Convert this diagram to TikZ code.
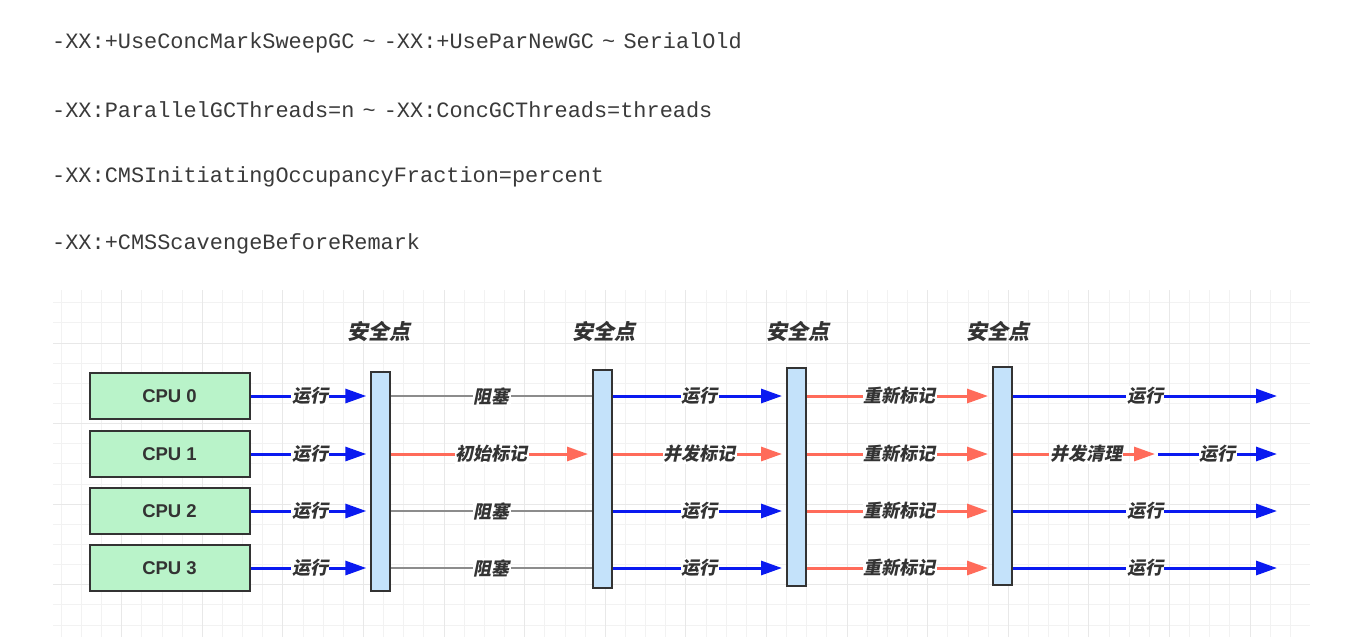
\documentclass[tikz,border=0pt]{standalone}
\usepackage{fontspec}
\usetikzlibrary{arrows.meta}
\newfontfamily\cjkf{Noto Sans CJK SC}[FakeSlant=0.2]
\newfontfamily\sansf{Liberation Sans}
\newfontfamily\monof{Liberation Mono}
\definecolor{txt}{HTML}{333333}
\definecolor{cmdtxt}{HTML}{3A3A3A}
\definecolor{gminor}{HTML}{F2F2F2}
\definecolor{gmajor}{HTML}{E8E8E8}
\definecolor{runblue}{HTML}{0A1AF0}
\definecolor{markred}{HTML}{FF6B5A}
\definecolor{blockgray}{HTML}{8C8C8C}
\definecolor{cpufill}{HTML}{B9F3C9}
\definecolor{barfill}{HTML}{C4E2FA}
\definecolor{edge}{HTML}{333333}
\newcommand{\tl}{\kern-5pt\textasciitilde\kern-5pt}
\tikzset{
  cmdline/.style={anchor=west, inner sep=0pt, text=cmdtxt, font=\monof\fontsize{21.9}{24}\selectfont},
  cpubox/.style={draw=edge, line width=2pt, fill=cpufill, minimum width=160pt, minimum height=46pt, inner sep=0pt, text=txt, font=\sansf\bfseries\fontsize{18.5}{21}\selectfont},
  barbox/.style={draw=edge, line width=2pt, fill=barfill, minimum width=19pt, inner sep=0pt},
  sptext/.style={inner sep=0pt, text=txt, font=\cjkf\bfseries\fontsize{21}{24}\selectfont},
  lbl/.style={fill=white, inner sep=1pt, text=txt, font=\cjkf\bfseries\fontsize{18}{20}\selectfont},
  runarrow/.style={draw=runblue, line width=3pt, -{Triangle[length=21pt,width=14pt]}, shorten >=4pt},
  markarrow/.style={draw=markred, line width=3pt, -{Triangle[length=21pt,width=14pt]}, shorten >=4pt},
  blockline/.style={draw=blockgray, line width=2pt}
}
\begin{document}
\begin{tikzpicture}[x=1pt,y=-1pt]
\useasboundingbox (0,0) rectangle (1364,641);
\fill[white] (0,0) rectangle (1364,641);
% grid
\foreach \i in {0,...,61} \draw[gminor, line width=1pt] ({61.25+20.15*\i},290) -- ({61.25+20.15*\i},637);
\foreach \j in {0,...,16} \draw[gminor, line width=1pt] (53,{302.7+20.15*\j}) -- (1310,{302.7+20.15*\j});
\foreach \i in {0,...,14} \draw[gmajor, line width=1pt] ({121.7+80.6*\i},290) -- ({121.7+80.6*\i},637);
\foreach \j in {0,...,3} \draw[gmajor, line width=1pt] (53,{343+80.6*\j}) -- (1310,{343+80.6*\j});

% command lines
\node[cmdline] (t1) at (52,43) {-XX:+UseConcMarkSweepGC \tl{} -XX:+UseParNewGC \tl{} SerialOld};
\node[cmdline] (t2) at (52,110) {-XX:ParallelGCThreads=n \tl{} -XX:ConcGCThreads=threads};
\node[cmdline] (t3) at (52,177) {-XX:CMSInitiatingOccupancyFraction=percent};
\node[cmdline] (t4) at (52,244) {-XX:+CMSScavengeBeforeRemark};

% safepoint labels
\node[sptext] (sp1) at (379,331) {安全点};
\node[sptext] (sp2) at (604,331) {安全点};
\node[sptext] (sp3) at (798,331) {安全点};
\node[sptext] (sp4) at (998,331) {安全点};

% CPU boxes
\node[cpubox] (cpu0) at (169.5,396) {CPU 0};
\node[cpubox] (cpu1) at (169.5,454) {CPU 1};
\node[cpubox] (cpu2) at (169.5,511) {CPU 2};
\node[cpubox] (cpu3) at (169.5,568) {CPU 3};

% safepoint bars
\node[barbox, minimum height=219pt] (b1) at (380.8,481.3) {};
\node[barbox, minimum height=218pt] (b2) at (602.5,479) {};
\node[barbox, minimum height=218pt] (b3) at (796.5,477) {};
\node[barbox, minimum height=218pt] (b4) at (1002.5,476) {};

% free ends
\coordinate (e0) at (1277,396);
\coordinate (e2) at (1277,511);
\coordinate (e3) at (1277,568);
\coordinate (ra) at (1159,454);
\coordinate (rb) at (1158,454);
\coordinate (e1) at (1277,454);

% CPU -> bar1
\foreach \k in {0,...,3}
  \draw[runarrow] (cpu\k.east) -- (b1.west |- cpu\k) node[lbl, midway] {运行};

% bar1 -> bar2
\draw[blockline] (b1.east |- cpu0) -- (b2.west |- cpu0) node[lbl, midway] {阻塞};
\draw[markarrow] (b1.east |- cpu1) -- (b2.west |- cpu1) node[lbl, midway] {初始标记};
\draw[blockline] (b1.east |- cpu2) -- (b2.west |- cpu2) node[lbl, midway] {阻塞};
\draw[blockline] (b1.east |- cpu3) -- (b2.west |- cpu3) node[lbl, midway] {阻塞};

% bar2 -> bar3
\draw[runarrow] (b2.east |- cpu0) -- (b3.west |- cpu0) node[lbl, midway] {运行};
\draw[markarrow] (b2.east |- cpu1) -- (b3.west |- cpu1) node[lbl, midway] {并发标记};
\draw[runarrow] (b2.east |- cpu2) -- (b3.west |- cpu2) node[lbl, midway] {运行};
\draw[runarrow] (b2.east |- cpu3) -- (b3.west |- cpu3) node[lbl, midway] {运行};

% bar3 -> bar4
\foreach \k in {0,...,3}
  \draw[markarrow] (b3.east |- cpu\k) -- (b4.west |- cpu\k) node[lbl, midway] {重新标记};

% after bar4
\draw[runarrow, shorten >=0pt] (b4.east |- cpu0) -- (e0) node[lbl, midway] {运行};
\draw[markarrow] (b4.east |- cpu1) -- (ra) node[lbl, midway] {并发清理};
\draw[runarrow, shorten >=0pt] (rb) -- (e1) node[lbl, midway] {运行};
\draw[runarrow, shorten >=0pt] (b4.east |- cpu2) -- (e2) node[lbl, midway] {运行};
\draw[runarrow, shorten >=0pt] (b4.east |- cpu3) -- (e3) node[lbl, midway] {运行};
\end{tikzpicture}
\end{document}
